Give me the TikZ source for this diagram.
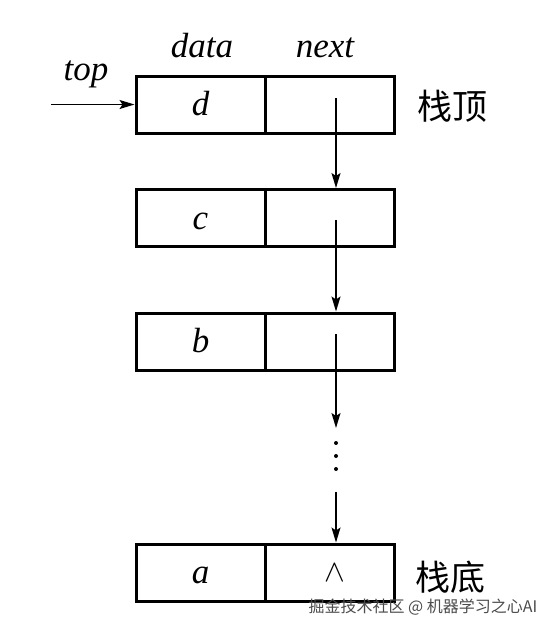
\documentclass[tikz,border=0pt]{standalone}
\usepackage{fontspec}
\usepackage{graphicx}
\setmainfont{Liberation Serif}
\newfontfamily\cjk{Noto Sans CJK SC}
\usetikzlibrary{arrows.meta}
\begin{document}
\begin{tikzpicture}[x=1pt,y=-1pt,
  cell/.style={draw,line width=3pt,minimum width=129pt,minimum height=57pt,inner sep=0pt,
    text height=22pt,text depth=0pt,font=\fontsize{35}{35}\selectfont\itshape},
  arr/.style={line width=1.5pt,-{Stealth[length=15pt,width=9pt,inset=3pt]}},
  lab/.style={anchor=base,font=\fontsize{35}{35}\selectfont\itshape},
  cn/.style={font=\cjk\fontsize{35}{35}\selectfont},
  dot/.style={fill=black}]
\useasboundingbox[fill=white] (0,0) rectangle (546,632);
% cells
\node[cell] (dL) at (200.5,104.5) {d};
\node[cell] (dR) at (329.5,104.5) {};
\node[cell] (cL) at (200.5,218) {c};
\node[cell] (cR) at (329.5,218) {};
\node[cell] (bL) at (200.5,341.5) {b};
\node[cell] (bR) at (329.5,341.5) {};
\node[cell] (aL) at (200.5,572.5) {a};
\node[cell,font=\fontsize{24}{24}\selectfont,text height=17pt] (aR) at (329.5,572.5) {\hspace*{11pt}\scalebox{1.25}{$\wedge$}};
% labels
\node[lab] (top) at (86,80) {top};
\node[lab] (data) at (202,57) {data};
\node[lab] (next) at (325,57) {next};
\node[cn] (stop) at (452,106) {栈顶};
\node[cn] (sbot) at (450,577) {栈底};
% pointers
\coordinate (t0) at (51,104.5);
\draw[arr] (t0) -- (dL.west);
\coordinate (s1) at (336,98);
\draw[arr] (s1) -- (s1 |- cR.north);
\coordinate (s2) at (336,220);
\draw[arr] (s2) -- (s2 |- bR.north);
\coordinate (s3) at (336,334);
\coordinate (e3) at (336,428);
\draw[arr] (s3) -- (e3);
\fill[dot] (336,443) circle (2pt);
\fill[dot] (336,456) circle (2pt);
\fill[dot] (336,469) circle (2pt);
\coordinate (s4) at (336,492);
\draw[arr] (s4) -- (s4 |- aR.north);
% watermark
\node[font=\cjk\fontsize{16}{16}\selectfont,text=black!70] (wm) at (423,607) {掘金技术社区 @ 机器学习之心AI};
\end{tikzpicture}
\end{document}
